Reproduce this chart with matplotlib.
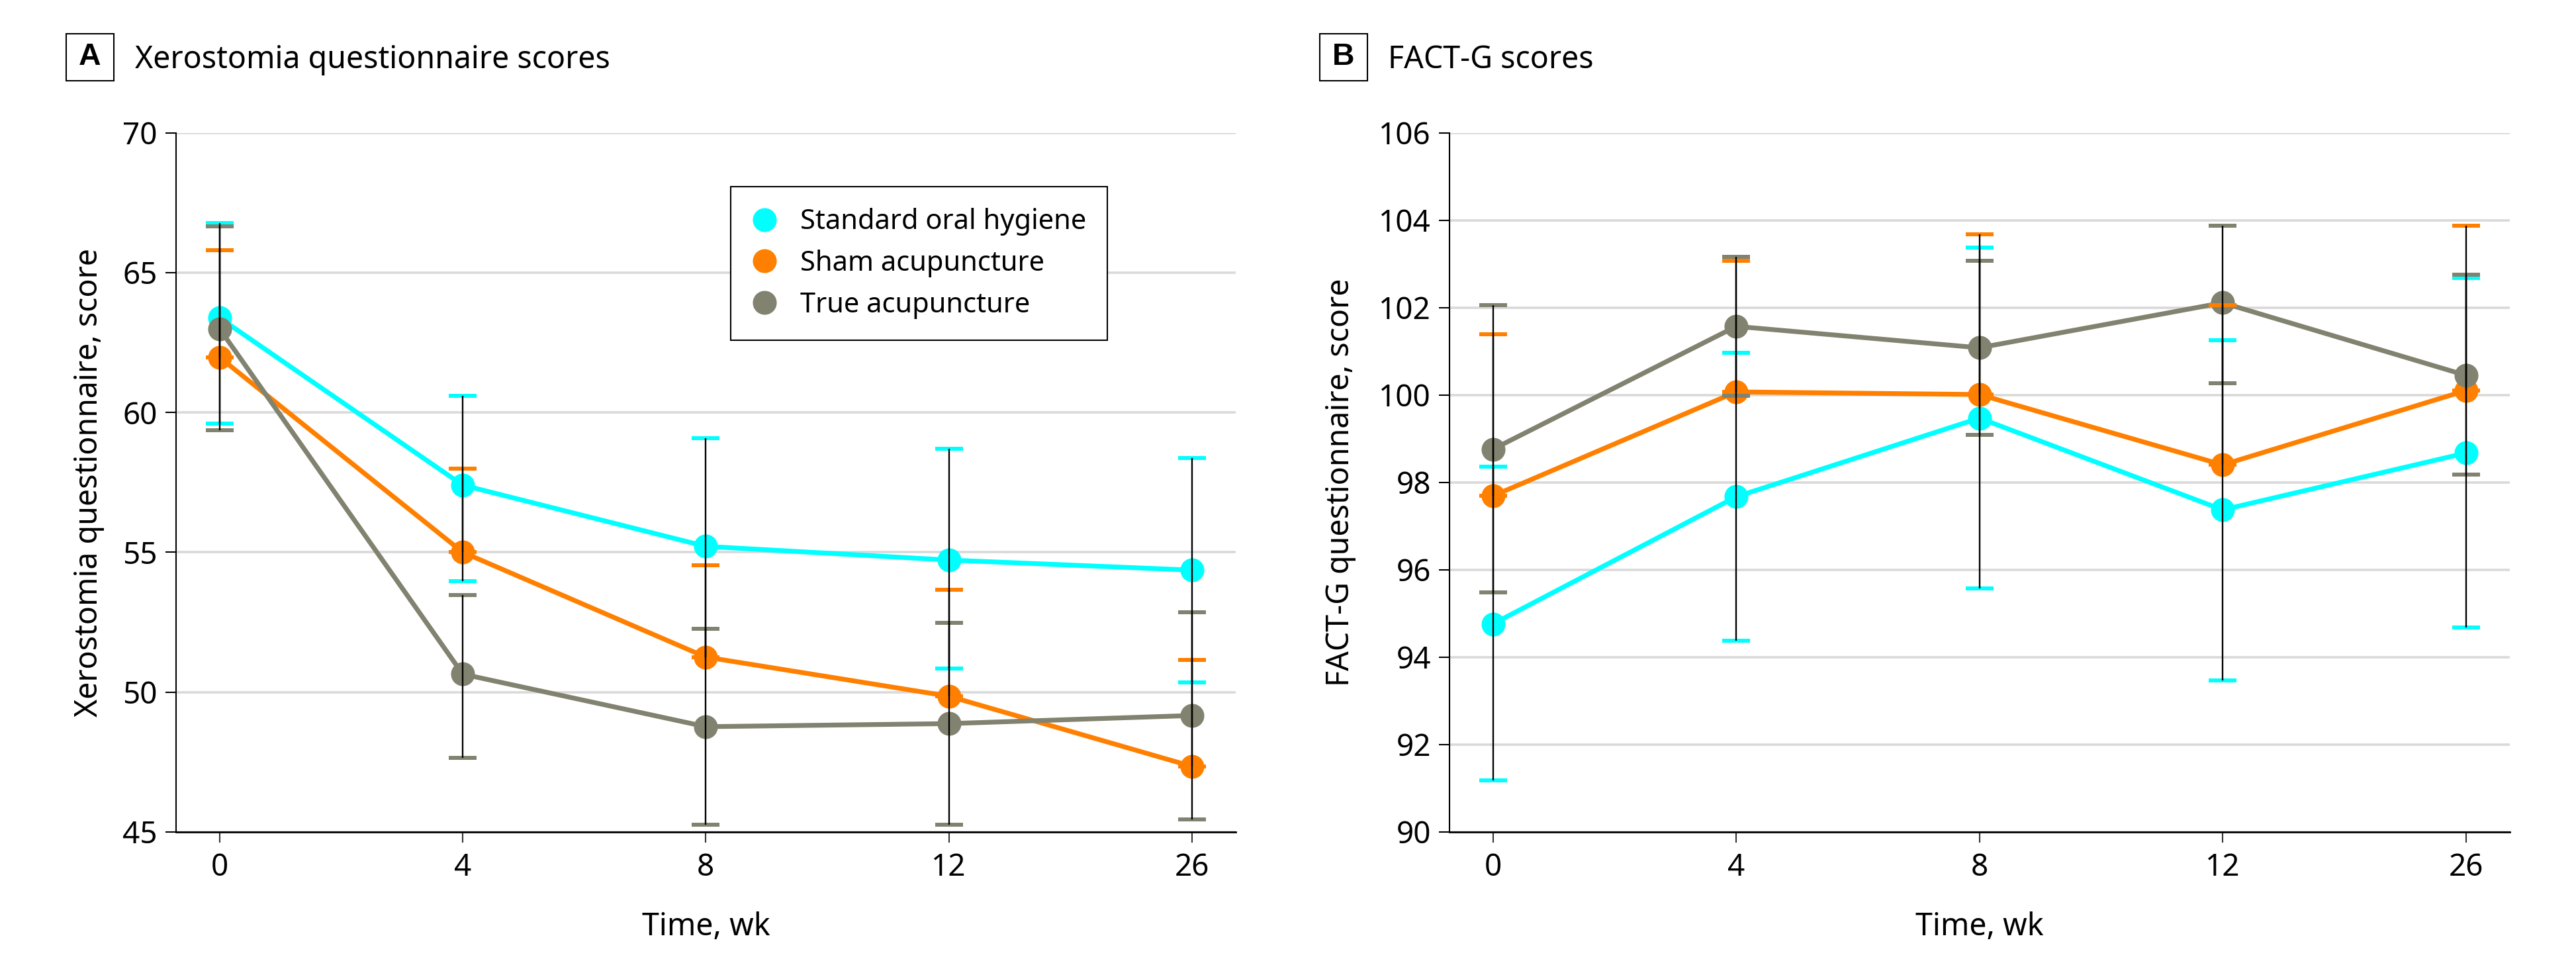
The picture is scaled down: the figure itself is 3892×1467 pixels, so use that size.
import matplotlib
matplotlib.use("Agg")
import matplotlib.pyplot as plt
from matplotlib.lines import Line2D
from matplotlib.patches import Rectangle
import numpy as np

plt.rcParams['font.family'] = ['Noto Sans', 'DejaVu Sans']

# ---------------- data ----------------
weeks = ['0', '4', '8', '12', '26']
series_names = ['Standard oral hygiene', 'Sham acupuncture', 'True acupuncture']
series_colors = ['#00FFFF', '#FF8000', '#828270']

# Panel A: Xerostomia questionnaire scores (mean, lower, upper)
xero_soh_mean = [63.38, 57.40, 55.21, 54.72, 54.36]
xero_soh_low = [59.59, 53.96, 51.25, 50.84, 50.34]
xero_soh_up = [66.78, 60.59, 59.08, 58.69, 58.38]

xero_sham_mean = [61.97, 55.00, 51.25, 49.85, 47.34]
xero_sham_low = [61.97, 55.00, 51.25, 49.85, 47.34]
xero_sham_up = [65.81, 57.99, 54.54, 53.66, 51.16]

xero_true_mean = [62.99, 50.64, 48.76, 48.87, 49.16]
xero_true_low = [59.37, 47.65, 45.25, 45.25, 45.44]
xero_true_up = [66.65, 53.46, 52.26, 52.47, 52.86]

# Panel B: FACT-G scores (mean, lower, upper)
fact_soh_mean = [94.76, 97.67, 99.47, 97.37, 98.67]
fact_soh_low = [91.18, 94.38, 95.57, 93.47, 94.67]
fact_soh_up = [98.36, 100.97, 103.37, 101.26, 102.68]

fact_sham_mean = [97.69, 100.07, 100.01, 98.40, 100.10]
fact_sham_low = [97.69, 100.07, 100.01, 98.40, 100.10]
fact_sham_up = [101.39, 103.07, 103.67, 102.06, 103.87]

fact_true_mean = [98.76, 101.57, 101.08, 102.11, 100.45]
fact_true_low = [95.48, 99.98, 99.08, 100.27, 98.17]
fact_true_up = [102.06, 103.16, 103.07, 103.87, 102.76]

xero_yticks = [45, 50, 55, 60, 65, 70]
fact_yticks = [90, 92, 94, 96, 98, 100, 102, 104, 106]

# ---------------- figure ----------------
W, H = 3892, 1467
fig = plt.figure(figsize=(W / 100, H / 100), dpi=100)

axA = fig.add_axes([265.7 / W, 1 - 1256.7 / H, (1867 - 265.7) / W, 1056 / H])
axB = fig.add_axes([2189.7 / W, 1 - 1256.7 / H, (3791.7 - 2189.7) / W, 1056 / H])

TICK_FS = 33
LABEL_FS = 33.5
LEGEND_FS = 30


def draw_panel(ax, data, yticks, ylabel, ylabel_x):
    x = np.arange(len(weeks))
    for i, (mean, low, up) in enumerate(data):
        mean = np.array(mean)
        low = np.array(low)
        up = np.array(up)
        ax.plot(x, mean, color=series_colors[i], lw=5.2, marker='o', ms=25,
                solid_capstyle='round', zorder=3 + i)
        eb = ax.errorbar(x, mean, yerr=[mean - low, up - mean], fmt='none',
                         ecolor='black', elinewidth=1.7, capsize=15, capthick=4.3,
                         zorder=10)
        for cap in eb[1]:
            cap.set_color(series_colors[i])
            cap.set_markeredgecolor(series_colors[i])
            cap.set_zorder(9)
    ax.set_xlim(-0.18, 4.18)
    ax.set_ylim(yticks[0], yticks[-1])
    ax.set_xticks(x)
    ax.set_xticklabels(weeks)
    ax.set_yticks(yticks)
    ax.yaxis.grid(True, color='#d9d9d9', lw=2.6)
    ax.set_axisbelow(True)
    for s in ['top', 'right']:
        ax.spines[s].set_visible(False)
    ax.spines['left'].set_linewidth(1.5)
    ax.spines['bottom'].set_linewidth(2.0)
    ax.tick_params(axis='y', length=11.5, width=1.5, pad=8.6, labelsize=TICK_FS)
    ax.tick_params(axis='x', length=11.5, width=1.5, pad=11, labelsize=TICK_FS,
                   color='#333333')
    ax.set_ylabel(ylabel, fontsize=LABEL_FS, va='baseline')
    ax.yaxis.set_label_coords(ylabel_x, 0.5)
    ax.set_xlabel('Time, wk', fontsize=LABEL_FS, va='baseline')
    ax.xaxis.set_label_coords(0.5, -0.148)


draw_panel(axA,
           [(xero_soh_mean, xero_soh_low, xero_soh_up),
            (xero_sham_mean, xero_sham_low, xero_sham_up),
            (xero_true_mean, xero_true_low, xero_true_up)],
           xero_yticks, 'Xerostomia questionnaire, score', -0.0741)
draw_panel(axB,
           [(fact_soh_mean, fact_soh_low, fact_soh_up),
            (fact_sham_mean, fact_sham_low, fact_sham_up),
            (fact_true_mean, fact_true_low, fact_true_up)],
           fact_yticks, 'FACT-G questionnaire, score', -0.0947)

# legend
handles = [Line2D([], [], ls='none', marker='o', ms=25, color=c) for c in series_colors]
leg = axA.legend(handles, series_names, loc='upper left',
                 bbox_to_anchor=(0.5238, 0.923), borderaxespad=0,
                 fontsize=LEGEND_FS, frameon=True, fancybox=False, shadow=False,
                 framealpha=1, edgecolor='black', borderpad=0.77,
                 labelspacing=0.5, handlelength=0.89, handletextpad=0.85)
leg.get_frame().set_linewidth(1.5)

# panel titles
def panel_title(letter, text, box_x0, text_x):
    bw, bh = 72, 71
    by0 = 121.7
    fig.patches.append(Rectangle((box_x0 / W, 1 - by0 / H), bw / W, bh / H,
                                 transform=fig.transFigure, fill=False,
                                 edgecolor='black', lw=1.5))
    fig.text((box_x0 + bw / 2) / W, 1 - (by0 - bh / 2) / H, letter,
             ha='center', va='center', fontsize=LABEL_FS, fontweight='bold',
             family=['Liberation Sans', 'DejaVu Sans'])
    fig.text(text_x / W, 1 - 103 / H, text, ha='left', va='baseline',
             fontsize=LABEL_FS)


panel_title('A', 'Xerostomia questionnaire scores', 100, 203.5)
panel_title('B', 'FACT-G scores', 1993.6, 2097)

fig.savefig('out.png', dpi=100, facecolor='white')
